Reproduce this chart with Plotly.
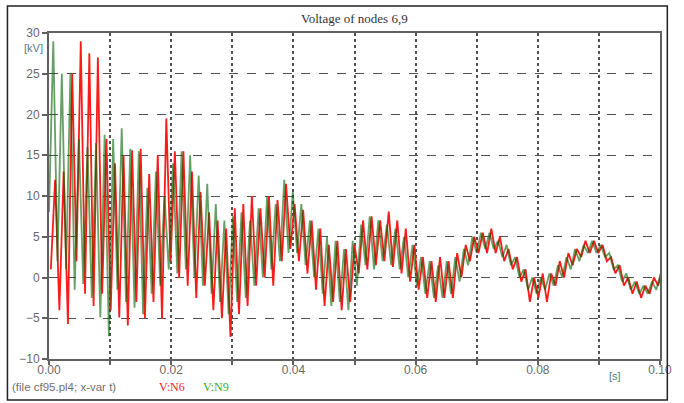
import numpy as np
import plotly.graph_objects as go

# ATP output, file cf95.pl4 — node voltages in kV, sampled at successive
# crests and troughs of the travelling-wave ripple (0.7 ms apart).
dt = 0.0007
n6_offset = 0.0003  # N6 ripple runs slightly behind N9

v_n6 = [
    1, 12, -4, 13, -5.7, 25, 2, 29, -2, 27.5,
    -3.5, 27, -2, 17, -4, 14, -4.9, 15, -5.9, 15.6,
    -3, 15.8, -5, 12.7, -3, 15, -5.1, 19.5, 2, 15.5,
    0, 15.5, -1, 13, -2.5, 10.5, -1, 8, -4, 7,
    -5, 6, -7.3, 8.5, -4.5, 9, -3.5, 10, -1, 8.5,
    0, 10, -1, 9.5, 2, 11.5, 3.5, 9, 2, 8.3,
    0.5, 7, -1.5, 6, -3.5, 4, -3, 4.5, -4, 3.5,
    -3, 4, 0.5, 7, 1, 7.5, 1.5, 7, 2, 8.1,
    1.3, 7, 0.5, 6, -0.5, 4, -1.5, 2.5, -2.5, 2,
    -3, 2.5, -2.5, 2, -2.5, 3, 0, 4, 2, 5,
    3, 5.5, 3, 6, 3, 5, 2, 3.5, 1, 2.5,
    -0.5, 1, -3, 0, -2.5, 0.5, -3, 0.5, -1, 2,
    0, 3, 1.5, 3.5, 2.5, 4.5, 3, 4.5, 3, 4,
    2, 2.5, 0.5, 1.5, -1, 0, -2, -0.5, -2.5, -1,
    -2, 0, -1, 1,
]

v_n9 = [
    8, 29, 2, 25, 1, 25, -1.5, 17, -0.8, 16,
    -2.5, 16.5, -4.9, 17.5, -7.2, 17, -1.5, 18.3, -3, 15.8,
    -3.7, 15.5, -4.5, 11, -2, 13, -1, 10, 1, 14,
    0.5, 15.5, 1, 15, 0, 12.5, -1, 11.5, -2, 9,
    -3, 7, -4.5, 7.5, -3, 8, -2.5, 7, -1, 8.5,
    0, 10, 1, 9, 2, 12, 3, 10.5, 3, 9,
    1.5, 7, 0, 6, -2, 5, -3.5, 4.5, -3, 3.5,
    -4, 4.5, -1, 6.5, 1.5, 7.5, 1, 7, 2, 6.5,
    1.5, 6, 1, 5, 0, 4, -1, 2.5, -2, 2,
    -2.5, 1.5, -2.5, 2, -2, 2.5, -0.5, 3.5, 1.5, 5,
    3, 5.5, 3.5, 5.5, 3.5, 4.5, 2.5, 4, 1.5, 2.5,
    0, 1, -1.5, 0, -2, 0, -1.5, 0.5, -1, 1.5,
    0, 2.5, 1, 3.5, 2, 4, 3, 4.5, 3, 4,
    2.5, 3, 1, 1.5, -0.5, 0.5, -1.5, -0.5, -2, -1,
    -2, -0.5, -1.5, 0.5,
]

t_n9 = np.arange(len(v_n9)) * dt
t_n6 = np.arange(len(v_n6)) * dt + n6_offset

x_ticks = [0.00, 0.01, 0.02, 0.03, 0.04, 0.05, 0.06, 0.07, 0.08, 0.09, 0.10]
x_tick_text = ["0.00", "", "0.02", "", "0.04", "", "0.06", "", "0.08", "", "0.10"]
y_ticks = [-10, -5, 0, 5, 10, 15, 20, 25, 30]

fig = go.Figure()
fig.add_trace(go.Scatter(
    x=t_n6, y=v_n6, mode="lines", name="V:N6",
    line=dict(color="#ff1a1a", width=1.8),
))
# translucent dark green over red gives the brown where the traces coincide
fig.add_trace(go.Scatter(
    x=t_n9, y=v_n9, mode="lines", name="V:N9",
    line=dict(color="#006400", width=1.8), opacity=0.6,
))

axis_font = dict(family="Liberation Sans, Arial, sans-serif", size=12, color="#6a6a6a")
fig.update_xaxes(
    range=[0, 0.1], tickvals=x_ticks, ticktext=x_tick_text,
    showgrid=True, gridcolor="#505050", gridwidth=1.5, griddash="dot",
    showline=True, mirror=True, linecolor="#606060", linewidth=2,
    ticks="outside", ticklen=4, tickcolor="#606060", tickwidth=1.5,
    tickfont=axis_font, zeroline=False, ticklabelstandoff=-5,
)
fig.update_yaxes(
    range=[-10, 30], tickvals=y_ticks,
    showgrid=True, gridcolor="#505050", gridwidth=1.3, griddash="dash",
    showline=True, mirror=True, linecolor="#606060", linewidth=2,
    ticks="outside", ticklen=5, tickcolor="#606060", tickwidth=1.5,
    tickfont=axis_font, zeroline=False,
)

serif = "Liberation Serif, Times New Roman, serif"
sans = "Liberation Sans, Arial, sans-serif"
notes = [
    dict(text="Voltage of nodes 6,9", x=0.5, y=1.043, xanchor="center",
         font=dict(family=serif, size=13, color="#333333")),
    dict(text="[kV]", x=-0.026, y=0.954, xanchor="center",
         font=dict(family=sans, size=11, color="#4d7f8c")),
    dict(text="[s]", x=0.926, y=-0.052, xanchor="center",
         font=dict(family=sans, size=11, color="#4d7f8c")),
    dict(text="(file cf95.pl4; x-var t)", x=-0.064, y=-0.086, xanchor="left",
         font=dict(family=sans, size=11.5, color="#707070")),
    dict(text="V:N6", x=0.176, y=-0.086, xanchor="left",
         font=dict(family=serif, size=12, color="#ff2020")),
    dict(text="V:N9", x=0.248, y=-0.086, xanchor="left",
         font=dict(family=serif, size=12, color="#30b030")),
]
for n in notes:
    fig.add_annotation(xref="paper", yref="paper", yanchor="middle",
                       showarrow=False, **n)

# outer frame around the whole graphic
fig.add_shape(type="rect", xref="paper", yref="paper",
              x0=-0.068, x1=1.012, y0=-0.126, y1=1.083,
              line=dict(color="#222222", width=1.5))

fig.update_layout(
    width=684, height=403,
    margin=dict(l=49, r=15, t=33, b=44),
    paper_bgcolor="white", plot_bgcolor="white",
    showlegend=False,
)

fig.write_html("out.html")
